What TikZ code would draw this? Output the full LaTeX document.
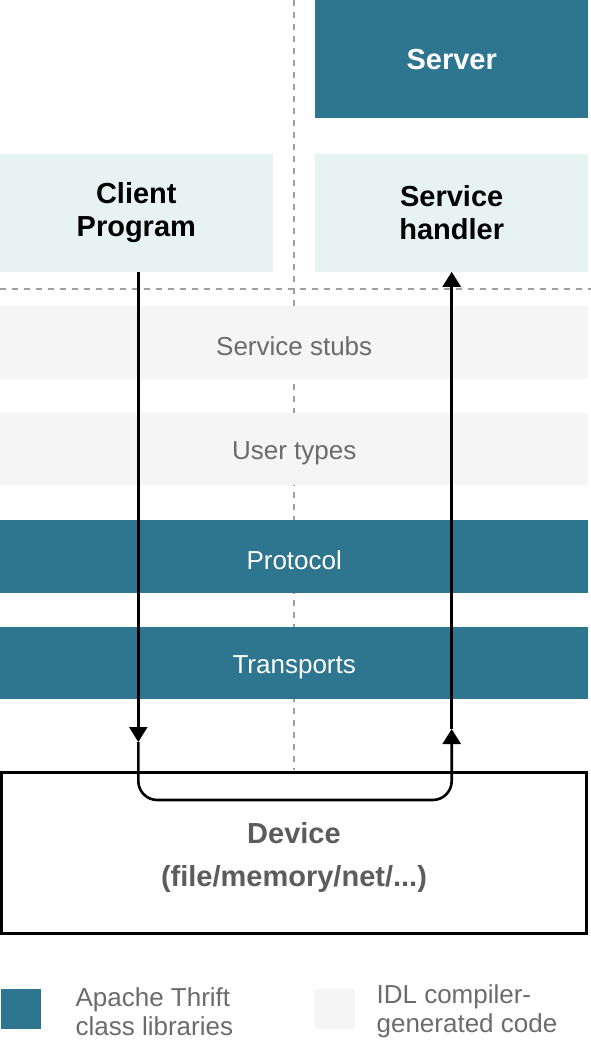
\documentclass[tikz,border=0pt]{standalone}
\usepackage{fontspec}
\setmainfont{Liberation Sans}
\usepackage{xcolor}
\usetikzlibrary{arrows.meta, positioning}

\definecolor{thrift}{HTML}{2E7590}
\definecolor{appfill}{HTML}{E7F3F3}
\definecolor{genfill}{HTML}{F5F5F5}
\definecolor{softtext}{HTML}{6B6B6B}
\definecolor{devtext}{HTML}{5C5C5C}

\begin{document}
\begin{tikzpicture}[
    x=1pt, y=-1pt,
    node distance=35pt and 42pt,
    box/.style={rectangle, minimum width=273pt, minimum height=118pt, inner sep=0pt, align=center, font=\bfseries\fontsize{29}{33}\selectfont},
    band/.style={rectangle, minimum width=588pt, minimum height=72.5pt, inner sep=0pt, text height=26pt, font=\fontsize{26}{30}\selectfont},
    lib/.style={band, fill=thrift, text=white},
    gencode/.style={band, fill=genfill, text=softtext},
    divider/.style={draw=gray!75, line width=1.5pt, dash pattern=on 6pt off 6pt},
    line/.style={line width=2.6pt, -{Triangle[width=18pt, length=15pt]}},
    key/.style={rectangle, minimum size=40pt, inner sep=0pt},
    keytext/.style={align=left, inner sep=0pt, text=softtext, font=\fontsize{26}{29}\selectfont}
]
\useasboundingbox (0,0) rectangle (591,1044);

% Dividers
\draw[divider] (294,0) -- (294,770);
\draw[divider] (0,289) -- (591,289);

% Nodes
\node[box, fill=thrift, text=white, anchor=north west] (server) at (315,0) {Server};
\node[box, fill=appfill, below=of server] (handler) {Service\\handler};
\node[box, fill=appfill, left=of handler] (client) {Client\\Program};

\node[gencode, anchor=north west] (stubs) at (0,306) {Service stubs};
\node[gencode, below=33.5pt of stubs] (types) {User types};
\node[lib, below=34.5pt of types] (protocol) {Protocol};
\node[lib, below=34pt of protocol] (transports) {Transports};

\node[draw, line width=3pt, minimum width=585pt, minimum height=161pt, inner sep=0pt, align=center,
      text=devtext, font=\bfseries\fontsize{29}{43}\selectfont] (device) at (294,853) {\rule{0pt}{29pt}Device\\(file/memory/net/...)};

% Legend
\node[key, fill=thrift, anchor=north west] (keylib) at (1,989) {};
\node[keytext, right=34pt of keylib, yshift=-2pt] (keylibtext) {Apache Thrift\\class libraries};
\node[key, fill=genfill, anchor=north west] (keygen) at (315,989) {};
\node[keytext, right=21pt of keygen, yshift=-2pt] (keygentext) {IDL compiler-\\generated code};

% Connections
\coordinate (downtip) at ([xshift=2pt]client.south |- 0,742);
\coordinate (uptip) at (handler.south |- 0,729);
\draw[line] ([xshift=2pt]client.south) -- (downtip);
\draw[line, rounded corners=19pt] (downtip) -- (downtip |- 0,800) -- (handler.south |- 0,800) -- (uptip);
\draw[line] (uptip) -- (handler.south);

\end{tikzpicture}
\end{document}
